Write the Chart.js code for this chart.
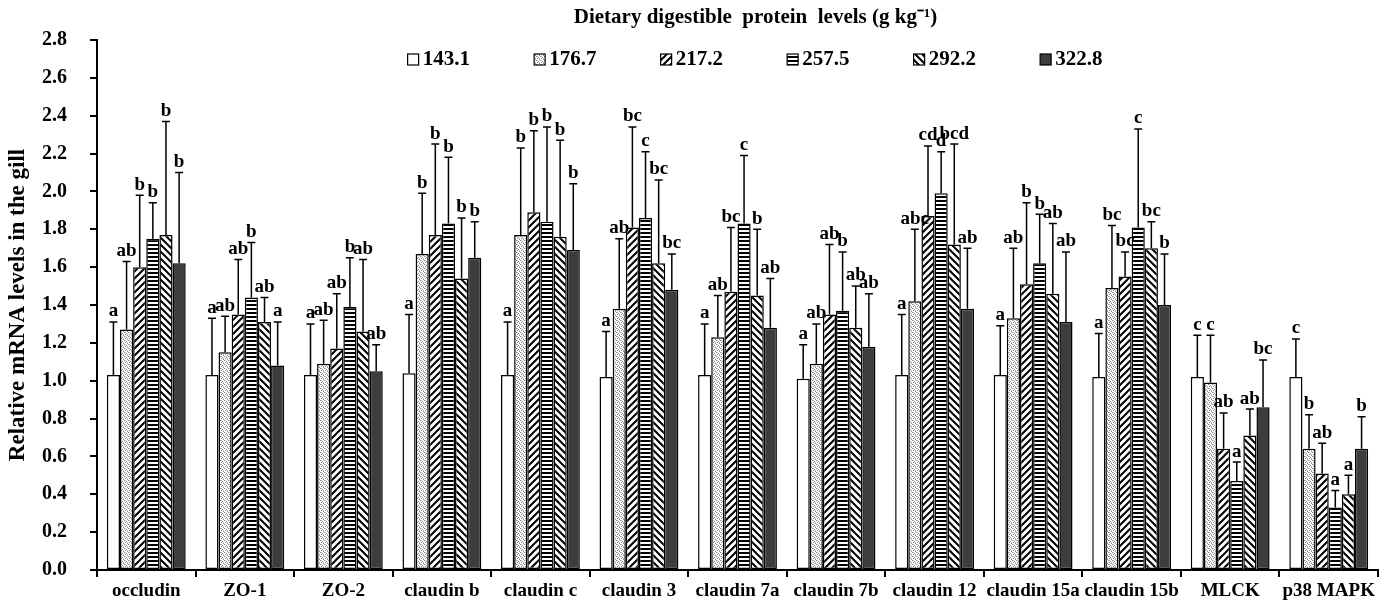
<!DOCTYPE html>
<html>
<head>
<meta charset="utf-8">
<script src="https://cdn.jsdelivr.net/npm/chart.js@4.4.1/dist/chart.umd.min.js"></script>
<style>
    body { margin: 0; background: #fff; }
    #wrap { width: 1386px; height: 605px; }
</style>
</head>
<body>
<div id="wrap"><canvas id="barChart"></canvas></div>
<script>
// Categorie (geni)
const genes = ['occludin', 'ZO-1', 'ZO-2', 'claudin b', 'claudin c', 'claudin 3', 'claudin 7a',
    'claudin 7b', 'claudin 12', 'claudin 15a', 'claudin 15b', 'MLCK', 'p38 MAPK'];

// Livelli proteici (serie)
const levels = ['143.1', '176.7', '217.2', '257.5', '292.2', '322.8'];

// Medie per livello
const mean143 = [1.03, 1.03, 1.03, 1.04, 1.03, 1.02, 1.03, 1.01, 1.03, 1.03, 1.02, 1.02, 1.02];
const mean176 = [1.27, 1.15, 1.09, 1.67, 1.77, 1.38, 1.23, 1.09, 1.42, 1.33, 1.49, 0.99, 0.64];
const mean217 = [1.60, 1.35, 1.17, 1.77, 1.89, 1.81, 1.47, 1.35, 1.87, 1.51, 1.55, 0.64, 0.51];
const mean257 = [1.75, 1.44, 1.39, 1.83, 1.84, 1.86, 1.83, 1.37, 1.99, 1.62, 1.81, 0.47, 0.33];
const mean292 = [1.77, 1.31, 1.26, 1.54, 1.76, 1.62, 1.45, 1.28, 1.72, 1.46, 1.70, 0.71, 0.40];
const mean322 = [1.62, 1.08, 1.05, 1.65, 1.69, 1.48, 1.28, 1.18, 1.38, 1.31, 1.40, 0.86, 0.64];

// Deviazioni standard
const sd143 = [0.28, 0.30, 0.27, 0.31, 0.28, 0.24, 0.27, 0.18, 0.32, 0.26, 0.23, 0.22, 0.20];
const sd176 = [0.36, 0.19, 0.23, 0.32, 0.46, 0.37, 0.22, 0.21, 0.38, 0.37, 0.33, 0.25, 0.18];
const sd217 = [0.38, 0.29, 0.29, 0.48, 0.43, 0.53, 0.34, 0.37, 0.37, 0.43, 0.13, 0.19, 0.16];
const sd257 = [0.19, 0.29, 0.26, 0.35, 0.50, 0.35, 0.36, 0.31, 0.22, 0.26, 0.52, 0.10, 0.09];
const sd292 = [0.60, 0.13, 0.38, 0.32, 0.51, 0.44, 0.35, 0.22, 0.53, 0.37, 0.14, 0.14, 0.10];
const sd322 = [0.48, 0.23, 0.14, 0.19, 0.35, 0.19, 0.26, 0.28, 0.32, 0.37, 0.27, 0.25, 0.17];

// Lettere di significatività
const let143 = ['a', 'a', 'a', 'a', 'a', 'a', 'a', 'a', 'a', 'a', 'a', 'c', 'c'];
const let176 = ['ab', 'ab', 'ab', 'b', 'b', 'ab', 'ab', 'ab', 'abc', 'ab', 'bc', 'c', 'b'];
const let217 = ['b', 'ab', 'ab', 'b', 'b', 'bc', 'bc', 'ab', 'cd', 'b', 'bc', 'ab', 'ab'];
const let257 = ['b', 'b', 'b', 'b', 'b', 'c', 'c', 'b', 'd', 'b', 'c', 'a', 'a'];
const let292 = ['b', 'ab', 'ab', 'b', 'b', 'bc', 'b', 'ab', 'bcd', 'ab', 'bc', 'ab', 'a'];
const let322 = ['b', 'a', 'ab', 'b', 'b', 'bc', 'ab', 'ab', 'ab', 'ab', 'b', 'bc', 'b'];

// Tick dell'asse y
const yTicks = [0, 0.2, 0.4, 0.6, 0.8, 1.0, 1.2, 1.4, 1.6, 1.8, 2.0, 2.2, 2.4, 2.6, 2.8];

const titleText = 'Dietary digestible  protein  levels (g kg\u207B\u00B9)';
const FONT = "'Liberation Serif', 'Times New Roman', serif";

const canvas = document.getElementById('barChart');
const ctx = canvas.getContext('2d');

// Crea i riempimenti a trama
function makePattern(kind) {
    const t = document.createElement('canvas');
    const c = t.getContext('2d');
    if (kind === 'dots') {
        t.width = 4; t.height = 4;
        c.fillStyle = '#fff'; c.fillRect(0, 0, 4, 4);
        c.fillStyle = '#8a8a8a';
        c.fillRect(0, 0, 1, 1); c.fillRect(2, 1, 1, 1);
        c.fillRect(1, 2, 1, 1); c.fillRect(3, 3, 1, 1);
        c.fillStyle = '#c4c4c4';
        c.fillRect(1, 0, 1, 1); c.fillRect(3, 2, 1, 1);
    } else if (kind === 'hlines') {
        t.width = 4; t.height = 4;
        c.fillStyle = '#fff'; c.fillRect(0, 0, 4, 4);
        c.fillStyle = '#000'; c.fillRect(0, 0, 4, 2);
    } else {
        const s = 7;
        t.width = s; t.height = s;
        c.fillStyle = '#fff'; c.fillRect(0, 0, s, s);
        c.strokeStyle = '#000'; c.lineWidth = 2;
        c.beginPath();
        if (kind === 'fwd') {
            c.moveTo(-1, 1); c.lineTo(1, -1);
            c.moveTo(0, s); c.lineTo(s, 0);
            c.moveTo(s - 1, s + 1); c.lineTo(s + 1, s - 1);
        } else {
            c.moveTo(-1, s - 1); c.lineTo(1, s + 1);
            c.moveTo(0, 0); c.lineTo(s, s);
            c.moveTo(s - 1, -1); c.lineTo(s + 1, 1);
        }
        c.stroke();
    }
    return ctx.createPattern(t, 'repeat');
}

const fills = ['#ffffff', makePattern('dots'), makePattern('fwd'), makePattern('hlines'), makePattern('back'), '#3d3d3d'];
const means = [mean143, mean176, mean217, mean257, mean292, mean322];
const sds = [sd143, sd176, sd217, sd257, sd292, sd322];
const letters = [let143, let176, let217, let257, let292, let322];

// Plugin per barre d'errore e lettere
const errorBars = {
    id: 'errorBars',
    afterDatasetsDraw(chart) {
        const c = chart.ctx;
        const yScale = chart.scales.y;
        c.save();
        c.strokeStyle = '#000';
        c.lineWidth = 1.5;
        c.fillStyle = '#000';
        c.font = 'bold 19px ' + FONT;
        c.textAlign = 'center';
        c.textBaseline = 'bottom';
        chart.data.datasets.forEach((ds, i) => {
            const meta = chart.getDatasetMeta(i);
            meta.data.forEach((bar, j) => {
                const top = yScale.getPixelForValue(ds.data[j] + sds[i][j]);
                c.beginPath();
                c.moveTo(bar.x, bar.y);
                c.lineTo(bar.x, top);
                c.moveTo(bar.x - 4, top);
                c.lineTo(bar.x + 4, top);
                c.stroke();
                c.fillText(letters[i][j], bar.x, top - 1);
            });
        });
        c.restore();
    }
};

// Titolo e legenda disegnati dentro l'area del grafico
const header = {
    id: 'header',
    afterDraw(chart) {
        const c = chart.ctx;
        const area = chart.chartArea;
        const cx = (area.left + area.right) / 2 + 18;
        c.save();
        c.fillStyle = '#000';
        c.textBaseline = 'middle';
        c.textAlign = 'center';
        c.font = 'bold 21px ' + FONT;
        c.fillText(titleText, cx, 18);

        c.textAlign = 'left';
        const step = 126.5;
        const lastW = 16 + c.measureText(levels[levels.length - 1]).width;
        let x = cx - (step * (levels.length - 1) + lastW) / 2;
        c.lineWidth = 1.2;
        c.strokeStyle = '#000';
        chart.data.datasets.forEach(ds => {
            c.fillStyle = ds.backgroundColor;
            c.fillRect(x, 54, 11, 11);
            c.strokeRect(x, 54, 11, 11);
            c.fillStyle = '#000';
            c.fillText(ds.label, x + 15, 60);
            x += step;
        });
        c.restore();
    }
};

new Chart(ctx, {
    type: 'bar',
    data: {
        labels: genes,
        datasets: levels.map((lv, i) => ({
            label: lv,
            data: means[i],
            backgroundColor: fills[i],
            borderColor: '#000',
            borderWidth: 1.5,
            borderSkipped: false,
            categoryPercentage: 0.8,
            barPercentage: 1.0
        }))
    },
    options: {
        responsive: true,
        maintainAspectRatio: false,
        animation: false,
        layout: { padding: { left: 0, right: 8, top: 40, bottom: 0 } },
        plugins: {
            legend: { display: false },
            title: { display: false },
            tooltip: { enabled: false }
        },
        scales: {
            x: {
                offset: true,
                grid: { offset: true, drawOnChartArea: false, drawTicks: true, tickLength: 7, color: '#000', lineWidth: 2 },
                border: { display: true, color: '#000', width: 2 },
                ticks: {
                    color: '#000',
                    font: { family: FONT, size: 19, weight: 'bold' },
                    maxRotation: 0,
                    autoSkip: false,
                    padding: 3
                },
                afterFit(scale) { scale.height = 31; }
            },
            y: {
                min: 0,
                max: 2.8,
                afterBuildTicks(scale) { scale.ticks = yTicks.map(v => ({ value: v })); },
                grid: { drawOnChartArea: false, drawTicks: true, tickLength: 7, color: '#000', lineWidth: 2 },
                border: { display: true, color: '#000', width: 2 },
                ticks: {
                    color: '#000',
                    font: { family: FONT, size: 20, weight: 'bold' },
                    padding: 23,
                    callback: v => Number(v).toFixed(1)
                },
                title: {
                    display: true,
                    text: 'Relative mRNA levels in the gill',
                    color: '#000',
                    font: { family: FONT, size: 23, weight: 'bold' },
                    padding: { top: 4, bottom: 0 }
                },
                afterFit(scale) { scale.width = 97; }
            }
        }
    },
    plugins: [errorBars, header]
});
</script>
</body>
</html>
